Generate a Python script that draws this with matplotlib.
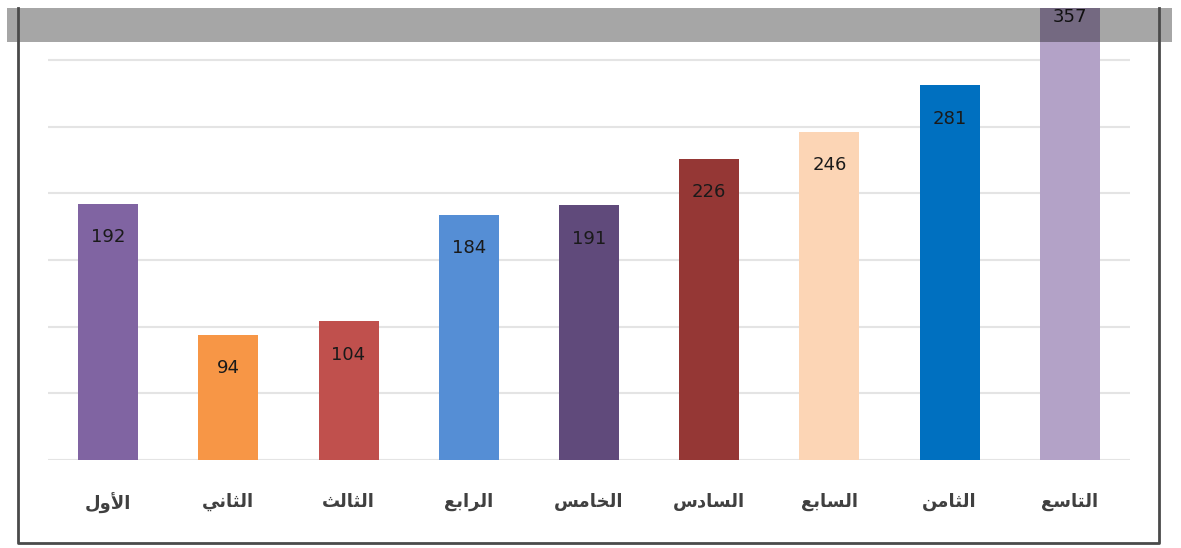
import matplotlib.pyplot as plt
from matplotlib.lines import Line2D
from matplotlib.patches import Rectangle

# chart data
categories = ["الأول", "الثاني", "الثالث", "الرابع", "الخامس",
              "السادس", "السابع", "الثامن", "التاسع"]
values = [192, 94, 104, 184, 191, 226, 246, 281, 357]
bar_colors = ["#8064A2", "#F79646", "#C0504D", "#558ED5", "#604A7B",
              "#953735", "#FCD5B5", "#0070C0", "#B3A2C7"]

# Arabic presentation forms: isolated, final, initial, medial
FORMS = {
    "ا": ("\uFE8D", "\uFE8E", None, None),
    "أ": ("\uFE83", "\uFE84", None, None),
    "ب": ("\uFE8F", "\uFE90", "\uFE91", "\uFE92"),
    "ت": ("\uFE95", "\uFE96", "\uFE97", "\uFE98"),
    "ث": ("\uFE99", "\uFE9A", "\uFE9B", "\uFE9C"),
    "خ": ("\uFEA5", "\uFEA6", "\uFEA7", "\uFEA8"),
    "د": ("\uFEA9", "\uFEAA", None, None),
    "ر": ("\uFEAD", "\uFEAE", None, None),
    "س": ("\uFEB1", "\uFEB2", "\uFEB3", "\uFEB4"),
    "ع": ("\uFEC9", "\uFECA", "\uFECB", "\uFECC"),
    "ل": ("\uFEDD", "\uFEDE", "\uFEDF", "\uFEE0"),
    "م": ("\uFEE1", "\uFEE2", "\uFEE3", "\uFEE4"),
    "ن": ("\uFEE5", "\uFEE6", "\uFEE7", "\uFEE8"),
    "و": ("\uFEED", "\uFEEE", None, None),
    "ي": ("\uFEF1", "\uFEF2", "\uFEF3", "\uFEF4"),
    "لأ": ("\uFEF7", "\uFEF8", None, None),
}


def shape(word):
    # split into units, merging lam + alef-hamza into a ligature
    units = []
    i = 0
    while i < len(word):
        if word[i:i + 2] == "لأ":
            units.append("لأ")
            i += 2
        else:
            units.append(word[i])
            i += 1
    out = []
    for k, u in enumerate(units):
        prev_joins = k > 0 and FORMS[units[k - 1]][2] is not None
        next_joins = k < len(units) - 1 and FORMS[u][2] is not None
        iso, fin, ini, med = FORMS[u]
        if prev_joins and next_joins:
            out.append(med)
        elif prev_joins:
            out.append(fin)
        elif next_joins:
            out.append(ini)
        else:
            out.append(iso)
    return "".join(reversed(out))


W, H = 1181, 548
fig = plt.figure(figsize=(W / 100, H / 100), dpi=100)
ax = fig.add_axes([48 / W, 1 - 460 / H, (1130 - 48) / W, (460 - 8) / H])

x = range(len(categories))
ax.bar(x, values, width=0.5, color=bar_colors, zorder=2)
ax.set_xlim(-0.5, len(categories) - 0.5)
ax.set_ylim(0, 339)

for i, v in enumerate(values):
    ax.annotate(str(v), (i, v), xytext=(0, -24), textcoords="offset points",
                ha="center", va="center", fontsize=13, color="#1a1a1a",
                annotation_clip=False)

ax.set_yticks([0, 50, 100, 150, 200, 250, 300])
ax.grid(axis="y", color="#E4E4E4", linewidth=1.5, zorder=0)
ax.set_axisbelow(True)
ax.tick_params(left=False, bottom=False, labelleft=False)
for s in ax.spines.values():
    s.set_visible(False)

ax.set_xticks(list(x))
ax.set_xticklabels([shape(c) for c in categories], fontsize=13, fontweight="bold",
                   color="#404040", family="DejaVu Sans")
ax.tick_params(axis="x", pad=20)

# grey band across the top
fig.patches.append(Rectangle((7 / W, 1 - 42 / H), (1172 - 7) / W, 34 / H,
                             transform=fig.transFigure, facecolor="black",
                             alpha=0.35, edgecolor="none", zorder=6))
# outer frame: left, bottom, right (top edge hidden under the band)
fx = [18 / W, 18 / W, 1159 / W, 1159 / W]
fy = [1 - 8 / H, 1 - 543 / H, 1 - 543 / H, 1 - 8 / H]
fig.lines.append(Line2D(fx, fy, transform=fig.transFigure, color="#4a4a4a",
                        linewidth=2, zorder=7))

fig.savefig("out.png", dpi=100)
